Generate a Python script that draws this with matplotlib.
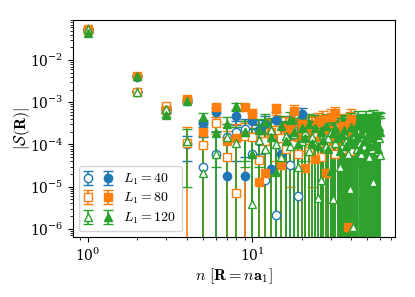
import matplotlib
matplotlib.use('Agg')
import matplotlib.pyplot as plt
import numpy as np
from matplotlib.legend_handler import HandlerTuple

plt.rcParams['mathtext.fontset'] = 'cm'
plt.rcParams['font.family'] = 'serif'
plt.rcParams['font.serif'] = ['DejaVu Serif']

# values in units of 1e-4 ; filled / open markers for each L1
f40 = [500, 40, 6.0, 10.5, 3.2, 5.9, 0.18, 4.7, 0.18, 3.6, 2.2, 3.0, 0.26, 3.8, 0.58, 1.5, 2.8, 1.2, 0.58, 5.3]
f40e = [5, 1.0, 0.5, 0.8, 0.6, 1.5, 1.2, 1.8, 1.5, 2.0, 1.6, 1.8, 1.7, 2.0, 1.8, 2.0, 1.9, 2.2, 2.0, 2.1]
o40 = [550, 18, 7.0, 1.0, 0.30, 0.58, 1.5, 2.0, 2.3, 0.58, 1.2, 0.14, 1.9, 0.021, 0.9, 1.3, 0.33, 1.0, 0.06, 1.8]
o40e = [5, 0.6, 0.6, 0.6, 1.2, 1.4, 1.5, 1.6, 1.8, 1.7, 1.9, 1.8, 2.0, 1.9, 2.1, 2.0, 2.2, 2.1, 2.3, 2.2]

f80 = [520, 42, 6.5, 12, 2.0, 7.7, 1.2, 1.4, 7.8, 5.3, 0.13, 0.21, 2.0, 7.0, 0.33, 2.5, 2.3, 6.3, 1.5, 3.0,
       0.28, 1.8, 2.5, 0.45, 3.5, 1.5, 4.0, 0.21, 2.2, 4.5, 1.3, 5.5, 1.8, 1.0, 2.8, 2.3, 1.5, 0.011, 3.0, 4.0]
f80e = [5, 1.0, 0.5, 0.8, 1.0, 1.5, 1.4, 1.6, 1.5, 1.8, 1.7, 1.6, 2.0, 1.9, 1.8, 2.1, 2.0, 2.2, 2.1, 2.3,
        2.2, 2.0, 2.4, 2.3, 2.1, 2.5, 2.2, 2.4, 2.3, 2.6, 2.5, 2.4, 2.7, 2.6, 2.5, 2.8, 2.6, 2.7, 2.9, 2.8]
o80 = [560, 18, 8.0, 1.1, 0.95, 3.2, 0.5, 0.07, 1.6, 1.5, 0.43, 1.2, 1.8, 2.2, 1.4, 0.8, 2.3, 1.0, 0.6, 2.0,
       1.3, 0.7, 2.6, 1.9, 1.1, 0.5, 1.6, 1.7, 0.9, 2.1, 1.2, 0.6, 1.8, 2.4, 0.8, 2.0, 1.0, 1.3, 0.7, 1.5]
o80e = [5, 0.6, 0.6, 1.5, 1.3, 1.4, 1.6, 1.5, 1.7, 1.8, 1.6, 1.9, 2.0, 1.8, 2.1, 2.0, 2.2, 2.1, 2.3, 2.2,
        2.4, 2.3, 2.2, 2.5, 2.4, 2.3, 2.6, 2.5, 2.4, 2.7, 2.6, 2.5, 2.8, 2.7, 2.6, 2.9, 2.8, 2.7, 3.0, 2.9]

f120 = [450, 43, 5.0, 11, 4.5, 1.9, 3.0, 8.0, 2.0, 0.6, 2.2, 3.5, 1.5, 0.22, 2.8, 1.2, 3.8, 2.0, 1.0, 2.5,
        1.4, 3.0, 1.1, 2.4, 0.9, 2.0, 1.3, 2.7, 0.8, 0.23, 1.9, 2.5, 1.4, 0.7, 1.7, 2.2, 0.9, 0.15, 1.3, 2.6,
        1.0, 2.0, 1.5, 3.2, 0.8, 1.8, 2.4, 1.2, 2.9, 1.6, 0.9, 2.1, 1.4, 3.0, 1.1, 2.3, 1.7, 0.8, 2.6, 2.0]
f120e = [5, 1.0, 0.5, 0.8, 1.0, 1.6, 1.5, 1.7, 1.6, 1.8, 1.9, 1.7, 2.0, 2.1, 1.9, 2.2, 2.0, 2.3, 2.2, 2.1,
         2.4, 2.3, 2.2, 2.5, 2.4, 2.3, 2.6, 2.5, 2.4, 2.7, 2.6, 2.5, 2.8, 2.7, 2.6, 2.9, 2.8, 2.7, 3.0, 2.9,
         2.8, 3.1, 3.0, 2.9, 3.2, 3.1, 3.0, 3.3, 3.2, 3.1, 3.4, 3.3, 3.2, 3.5, 3.4, 3.3, 3.6, 3.5, 3.4, 3.7]
o120 = [550, 18, 7.0, 1.2, 0.21, 0.6, 1.5, 1.1, 2.0, 0.039, 1.3, 0.8, 2.2, 1.0, 0.5, 1.6, 0.9, 1.8, 0.30, 1.2,
        2.0, 0.7, 1.5, 1.0, 0.053, 0.14, 1.7, 0.9, 1.4, 2.0, 0.05, 1.1, 1.6, 0.30, 0.9, 1.8, 1.2, 0.6, 0.09, 1.4,
        0.011, 1.7, 0.8, 2.0, 1.1, 0.6, 1.5, 0.9, 1.9, 1.2, 0.5, 1.3, 0.8, 0.13, 1.6, 1.0, 2.2, 0.7, 1.4, 0.55]
o120e = [5, 0.6, 0.6, 1.1, 1.4, 1.5, 1.6, 1.5, 1.7, 1.8, 1.6, 1.9, 2.0, 1.8, 2.1, 2.0, 2.2, 2.1, 2.3, 2.2,
         2.4, 2.3, 2.2, 2.5, 2.4, 2.3, 2.6, 2.5, 2.4, 2.7, 2.6, 2.5, 2.8, 2.7, 2.6, 2.9, 2.8, 2.7, 3.0, 2.9,
         2.8, 3.1, 3.0, 2.9, 3.2, 3.1, 3.0, 3.3, 3.2, 3.1, 3.4, 3.3, 3.2, 3.5, 3.4, 3.3, 3.6, 3.5, 3.4, 3.7]

L1s = [40, 80, 120]
colors = ['#1f77b4', '#ff7f0e', '#2ca02c']
markers = ['o', 's', '^']
series = [(f40, f40e, o40, o40e), (f80, f80e, o80, o80e), (f120, f120e, o120, o120e)]

fig = plt.figure(figsize=(4.15, 2.97), dpi=100)
ax = fig.add_axes([0.176, 0.202, 0.776, 0.731])
ax.set_xscale('log')
ax.set_yscale('log')

handles = []
for L, c, m, (f, fe, o, oe) in zip(L1s, colors, markers, series):
    n = np.arange(1, len(f) + 1)
    eo = ax.errorbar(n, np.array(o) * 1e-4, yerr=np.array(oe) * 1e-4, fmt=m, color=c,
                     mfc='white', mec=c, ms=6, capsize=3.5, elinewidth=1.2, mew=1.0)
    ef = ax.errorbar(n, np.array(f) * 1e-4, yerr=np.array(fe) * 1e-4, fmt=m, color=c,
                     ms=6, capsize=3.5, elinewidth=1.2)
    handles.append((eo, ef))

ax.set_ylim(6.4e-7, 9e-2)
ax.set_xlabel(r'$n\ [\mathbf{R} = n\mathbf{a}_1]$', fontsize=11.5, labelpad=1.5)
ax.set_ylabel(r'$|\mathcal{S}(\mathbf{R})|$', fontsize=11.5, labelpad=-2)
ax.tick_params(labelsize=10)
ax.legend(handles, [r'$L_1 = %d$' % L for L in L1s], loc='lower left',
          handler_map={tuple: HandlerTuple(ndivide=None, pad=1.0)}, fontsize=10,
          handlelength=2.0, borderaxespad=0.4, labelspacing=0.3, handletextpad=0.8)

fig.savefig('out.png', dpi=100)
